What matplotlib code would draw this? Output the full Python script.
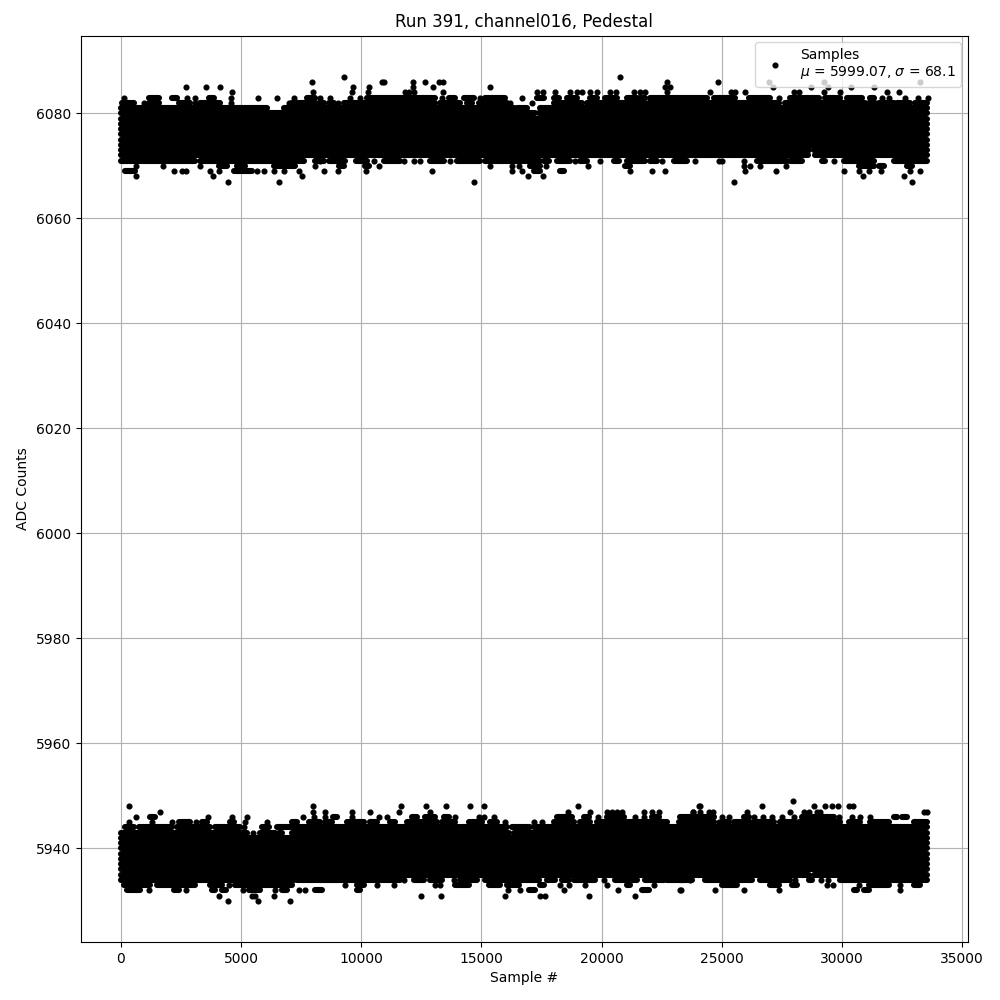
import matplotlib
matplotlib.use("Agg")
import matplotlib.pyplot as plt

# the band is far too dense to read sample by sample, so each ADC level is
# kept as solid stretches (start, stop) plus the lone samples that can be read
FULL = [(0, 33560)]

# upper pedestal
runs_6083 = [(1160, 1575), (2130, 2340), (3655, 3860), (7745, 8090), (10240, 13083), (13638, 13915), (14262, 14678),
             (15164, 15996), (17314, 17591), (18007, 18215), (18562, 18978), (19533, 19810), (20157, 20642),
             (21059, 21475), (21613, 21821), (22030, 24385), (24662, 25286), (25383, 25564), (26118, 27020),
             (27852, 29031), (29308, 29933), (30210, 30834), (31181, 31320)]
dots_6083 = [145, 2750, 3100, 4585, 5690, 6500, 7220, 8300, 8720, 9550, 9965, 13360, 14928, 16690, 27367,
             31666, 31944, 32637, 33150, 33567]
runs_6082 = [(50, 535), (1160, 1575), (2405, 2890), (3310, 4140), (7120, 8090), (8230, 8440), (8650, 8855),
             (9270, 13083), (13291, 14124), (14401, 14609), (14887, 16065), (18007, 19186), (19394, 20504),
             (20642, 21821), (21960, 25286), (25355, 27367), (27644, 30973), (31111, 31389), (31528, 32152),
             (32291, 32845), (33053, 33560)]
dots_6082 = [950, 3100, 4585, 6985, 9020, 16204, 17106]
runs_6081 = [(0, 6080), (6775, 16340), (16500, 16900), (17450, 33560)]
runs_6080 = [(0, 17245), (17383, 33560)]
runs_6073 = [(0, 28650), (28850, 33560)]
runs_6072 = [(0, 28600), (28900, 33560)]
runs_6071 = [(0, 810), (880, 3100), (3310, 5180), (5250, 7600), (8090, 8440), (8650, 9340), (9800, 10240),
             (10940, 11630), (12875, 13430), (13985, 14955), (15165, 17450), (17590, 17800), (18150, 18700),
             (19120, 19390), (20500, 20710), (21060, 21820), (22030, 22300), (23000, 23550), (26465, 27713),
             (27852, 28338), (29170, 29310), (30071, 31320), (32152, 33560)]
dots_6071 = [8300, 10520, 11770, 12180, 12460, 13707, 18909, 19921, 22515, 23900, 24870, 25010, 25910, 29683]
runs_6070 = [(4071, 4418), (4834, 5180), (6359, 7261), (9064, 9272), (10173, 10312), (17036, 17452), (20989, 21197),
             (30696, 31320), (31528, 31736), (32707, 32915)]
dots_6070 = [631, 1741, 3308, 8093, 10728, 15344, 16273, 16551, 17688, 19436, 25910, 26188, 26604, 27686]
runs_6069 = [(187, 603), (4695, 5458), (17175, 17452), (18285, 18423)]
dots_6069 = [2226, 2545, 2725, 3724, 4071, 5666, 5943, 6359, 6776, 7400, 8468, 9022, 10215, 12945, 16273, 16690,
             21197, 22099, 22626, 25952, 27270, 30071, 30696, 31111, 31639, 32845, 33234]
dots_6068 = [631, 3821, 7538, 16925, 17563, 30876, 32596]
dots_6067 = [4445, 6567, 14678, 25494, 32915]
dots_6084 = [4625, 7980, 9620, 10280, 11835, 12000, 12180, 13388, 17314, 17563, 18077, 18700, 18978, 19186, 19533,
             19810, 20365, 20615, 21336, 21613, 21821, 22723, 24496, 25383, 25564, 25980, 27991, 28199, 29267,
             29905, 31874, 32360]
dots_6085 = [2700, 3530, 4110, 9650, 10310, 12155, 12972, 15372, 22653, 22862, 27131, 28712, 29405, 30376, 31320]
dots_6086 = [7940, 10870, 10940, 12155, 12640, 13222, 13400, 22723, 24828, 26950, 29239, 33234]
dots_6087 = [9270, 20780]

# lower pedestal
dots_5949 = [27949]
dots_5948 = [326, 7982, 11669, 12695, 13527, 14512, 15095, 19006, 24040, 24107, 26673, 28823, 29281, 29586, 29822,
             30279, 30460]
dots_5947 = [1616, 7982, 8509, 9619, 10382, 11560, 12875, 18590, 19533, 20226, 20430, 20640, 20851, 21752, 22099,
             22376, 23791, 23802, 24107, 24454, 24634, 26049, 27824, 28407, 28615, 28962, 29100, 33400, 33560]
runs_5946 = [(1228, 1436), (8814, 8995), (12112, 12320), (12667, 13083), (13430, 13638), (18146, 18770),
             (19255, 19463), (20226, 20920), (22099, 22376), (23278, 24662), (25910, 26118), (28338, 29655),
             (32152, 32300), (32500, 32707)]
dots_5946 = [645, 3613, 4626, 5250, 7566, 8024, 8509, 9619, 10729, 11075, 13915, 14886, 15095, 15538, 19838, 21405,
             21752, 25009, 25286, 26326, 26701, 27089, 27505, 27991, 29863, 30418, 30765, 31181]
runs_5945 = [(2434, 2864), (3377, 3585), (4556, 4695), (7122, 7331), (7816, 8300), (8509, 8786), (9411, 10104),
             (10382, 10659), (11214, 11422), (11904, 13153), (13361, 13915), (14470, 15025), (15372, 15649),
             (18007, 18840), (19117, 19533), (19810, 21336), (21475, 22723), (23208, 24662), (25009, 25286),
             (25494, 26188), (26326, 27159), (27436, 28060), (28199, 29933), (30279, 30765), (31181, 31944),
             (32984, 33539)]
dots_5945 = [326, 1297, 2129, 3141, 5153, 6082, 15996, 17175, 17522, 24870]
runs_5944 = [(187, 534), (742, 2129), (2337, 3724), (3932, 4972), (5874, 6151), (6498, 7053), (7122, 14124),
             (14193, 16065), (16273, 17036), (17175, 33560)]
dots_5944 = [5111]
runs_5943 = [(0, 5250), (5805, 6429), (6567, 6706), (7122, 16135), (16342, 33560)]
dots_5943 = [5499]
runs_5935 = [(0, 28615), (28823, 33560)]
runs_5934 = [(0, 7191), (7330, 11630), (12182, 12598), (12875, 13361), (14124, 14817), (15164, 17383), (17730, 18077),
             (18354, 18631), (18840, 19741), (20573, 21475), (21821, 22584), (22723, 23416), (23275, 23760),
             (24315, 26257), (26604, 27852), (28615, 28754), (29933, 30696), (30834, 33539)]
dots_5934 = [11766, 13846, 20088, 23694, 28060, 29128, 29406]
runs_5933 = [(118, 1227), (1505, 3100), (3724, 4210), (4764, 7122), (9827, 10104), (13915, 14470), (15302, 15788),
             (16065, 16551), (17452, 17591), (21059, 21197), (25009, 25633), (27020, 27367), (27921, 28130),
             (31111, 31944), (32984, 33262)]
dots_5933 = [4487, 9341, 10659, 11380, 13056, 13291, 18257, 18631, 19297, 20226, 22168, 29378, 29627, 30696, 32429]
runs_5932 = [(257, 811), (2198, 2406), (3793, 3932), (4210, 4390), (5319, 5805), (6706, 6914), (8093, 8370),
             (9827, 9966), (16967, 17244), (21683, 21960), (30487, 30626), (30904, 31111)]
dots_5932 = [1158, 2712, 5083, 6429, 7400, 7677, 16093, 16620, 18423, 20670, 23278, 23317, 24704, 25945, 27367, 32401]
dots_5931 = [4071, 5458, 5597, 6387, 12487, 13319, 15968, 17452, 17660, 19463, 21378]
dots_5930 = [4445, 5694, 7025]

level_runs = [
    (6083, runs_6083), (6082, runs_6082), (6081, runs_6081), (6080, runs_6080), (6079, FULL), (6078, FULL),
    (6077, FULL), (6076, FULL), (6075, FULL), (6074, FULL), (6073, runs_6073), (6072, runs_6072), (6071, runs_6071),
    (6070, runs_6070), (6069, runs_6069),
    (5946, runs_5946), (5945, runs_5945), (5944, runs_5944), (5943, runs_5943), (5942, FULL), (5941, FULL),
    (5940, FULL), (5939, FULL), (5938, FULL), (5937, FULL), (5936, FULL), (5935, runs_5935), (5934, runs_5934),
    (5933, runs_5933), (5932, runs_5932),
]
level_dots = [
    (6087, dots_6087), (6086, dots_6086), (6085, dots_6085), (6084, dots_6084), (6083, dots_6083), (6082, dots_6082),
    (6071, dots_6071), (6070, dots_6070), (6069, dots_6069), (6068, dots_6068), (6067, dots_6067),
    (5949, dots_5949), (5948, dots_5948), (5947, dots_5947), (5946, dots_5946), (5945, dots_5945), (5944, dots_5944),
    (5943, dots_5943), (5934, dots_5934), (5933, dots_5933), (5932, dots_5932), (5931, dots_5931), (5930, dots_5930),
]

fig, ax = plt.subplots(figsize=(10, 10))

for level, runs in level_runs:
    ax.hlines([level] * len(runs), [r[0] for r in runs], [r[1] for r in runs],
              colors="k", linewidth=4.4, capstyle="round", zorder=2)

xs = []
ys = []
for level, dots in level_dots:
    xs += dots
    ys += [level] * len(dots)
ax.plot(xs, ys, "k.", markersize=6.8, label="Samples\n$\\mu$ = 5999.07, $\\sigma$ = 68.1")

ax.set_title("Run 391, channel016, Pedestal")
ax.set_xlabel("Sample #")
ax.set_ylabel("ADC Counts")
ax.grid(True)
ax.legend(loc="upper right")
fig.subplots_adjust(left=0.0805, right=0.968, top=0.9645, bottom=0.058)
plt.savefig("out.png", dpi=100)
